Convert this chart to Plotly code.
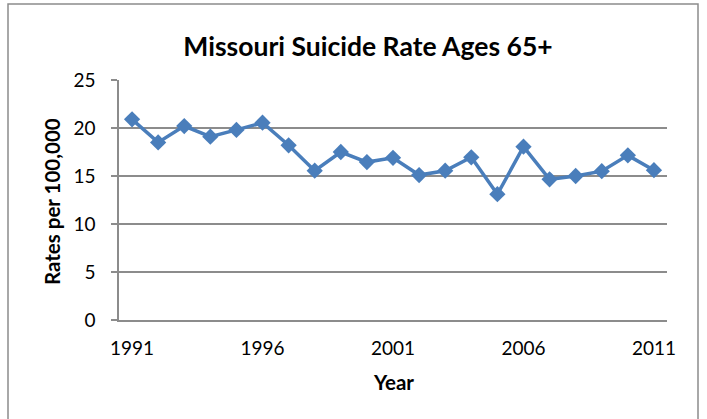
import plotly.graph_objects as go

# Missouri suicide rate, ages 65+, per 100,000 population
years = list(range(1991, 2012))
rates = [20.9, 18.5, 20.2, 19.1, 19.8, 20.55, 18.2, 15.55, 17.5, 16.45, 16.9,
         15.1, 15.55, 16.95, 13.1, 18.05, 14.65, 15.0, 15.5, 17.15, 15.6]
year_ticks = [1991, 1996, 2001, 2006, 2011]
rate_ticks = [0, 5, 10, 15, 20, 25]

FONT = "Lato"
GRID = "#8c8c8c"
LINE = "#4a7ebb"

W, H = 707, 419
L, R, T, B = 119, 40, 80, 99
pw, ph = W - L - R, H - T - B


def px_x(x):
    return (x - L) / pw


def px_y(y):
    return (H - B - y) / ph


fig = go.Figure()
fig.add_trace(go.Scatter(
    x=years, y=rates, mode="lines+markers",
    line=dict(color=LINE, width=3.5),
    marker=dict(symbol="diamond", size=12.5, color=LINE),
    showlegend=False, cliponaxis=False,
))

fig.update_layout(
    width=W, height=H,
    margin=dict(l=L, r=R, t=T, b=B),
    paper_bgcolor="white", plot_bgcolor="white",
    font=dict(family=FONT, size=19, color="black"),
    title=dict(text="<b>Missouri Suicide Rate Ages 65+</b>",
               font=dict(family=FONT, size=26.5, color="black"),
               x=368 / W, xanchor="center", xref="container",
               y=1 - 47 / H, yanchor="middle"),
    xaxis=dict(range=[1990.5, 2011.5], tickmode="array", tickvals=year_ticks,
               ticktext=[str(v) for v in year_ticks], showgrid=False,
               showline=True, linecolor=GRID, linewidth=1.5, ticks="",
               ticklabelstandoff=10, tickfont=dict(size=19), zeroline=False),
    yaxis=dict(range=[0, 25], tickmode="array", tickvals=rate_ticks,
               showgrid=True, gridcolor=GRID, gridwidth=1.5,
               showline=True, linecolor=GRID, linewidth=1.5,
               ticks="outside", ticklen=6, tickcolor=GRID, tickwidth=1.5,
               ticklabelstandoff=12, tickfont=dict(size=19), zeroline=False),
    annotations=[
        dict(text="<b>Rates per 100,000</b>", xref="paper", yref="paper",
             x=px_x(52), y=px_y(202), textangle=-90, showarrow=False,
             xanchor="center", yanchor="middle", font=dict(size=20.5)),
        dict(text="<b>Year</b>", xref="paper", yref="paper",
             x=px_x(393), y=px_y(382), showarrow=False,
             xanchor="center", yanchor="middle", font=dict(size=20.5)),
    ],
    shapes=[
        dict(type="rect", xref="paper", yref="paper",
             x0=px_x(8), x1=px_x(698), y0=px_y(440), y1=px_y(4),
             line=dict(color="#8c8c8c", width=1.5), fillcolor="rgba(0,0,0,0)",
             layer="below"),
    ],
)

fig.write_html("out.html")
